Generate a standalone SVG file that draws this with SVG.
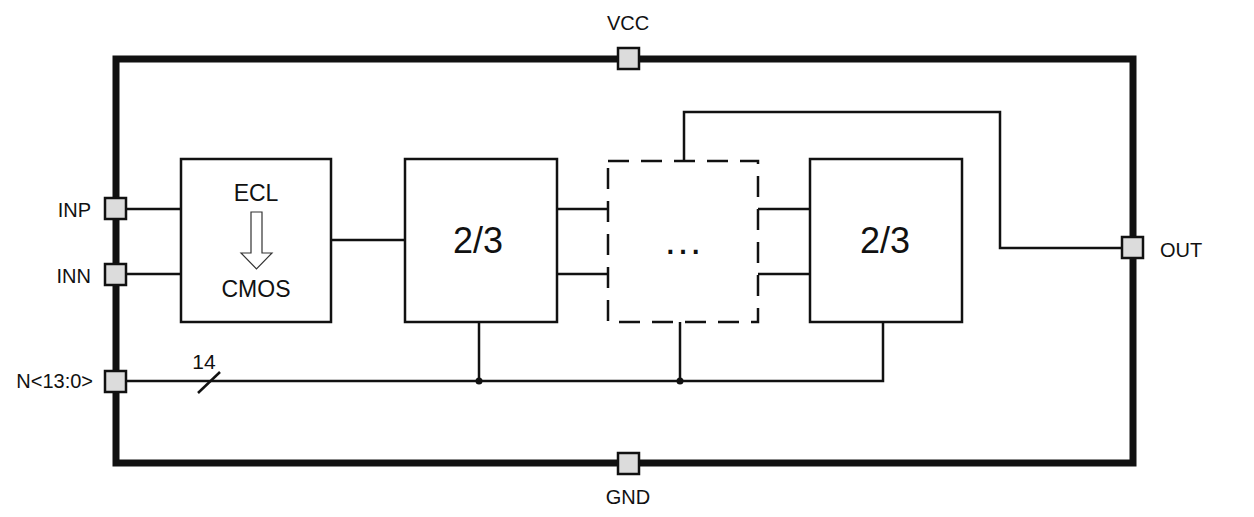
<svg xmlns="http://www.w3.org/2000/svg" width="1254" height="517" viewBox="0 0 1254 517">
<style>
text{font-family:"Liberation Sans",Arial,sans-serif;fill:#111}
.lbl{font-size:20px}
.blk{fill:#fff;stroke:#111;stroke-width:2.5}
.w{fill:none;stroke:#111;stroke-width:2.5}
.pin{fill:#dcdcdc;stroke:#111;stroke-width:2.5}
.big{font-size:36px}
</style>
<rect width="1254" height="517" fill="#fff"/>
<g id="frame"><rect x="116" y="59" width="1017" height="404" fill="none" stroke="#111" stroke-width="7"/></g>
<g id="connectors">
<line class="w" x1="116" y1="209" x2="181" y2="209"/>
<line class="w" x1="116" y1="274" x2="181" y2="274"/>
<line class="w" x1="331" y1="240" x2="405" y2="240"/>
<line class="w" x1="557" y1="209" x2="608" y2="209"/>
<line class="w" x1="557" y1="274" x2="608" y2="274"/>
<line class="w" x1="758" y1="209" x2="810" y2="209"/>
<line class="w" x1="758" y1="274" x2="810" y2="274"/>
<polyline class="w" points="684,161 684,112 1000,112 1000,248 1133,248"/>
<polyline class="w" points="116,381 883,381 883,322"/>
<line class="w" x1="479" y1="322" x2="479" y2="381"/>
<line class="w" x1="680" y1="322" x2="680" y2="381"/>
<circle cx="479" cy="381" r="3.5" fill="#111"/>
<circle cx="680" cy="381" r="3.5" fill="#111"/>
<line class="w" x1="198" y1="393" x2="220" y2="372"/>
<text x="204" y="369" font-size="21" text-anchor="middle">14</text>
</g>
<g id="ecl">
<rect class="blk" x="181" y="159" width="150" height="163"/>
<text x="256" y="201" font-size="23" text-anchor="middle">ECL</text>
<polygon points="251,212 262,212 262,253 272,253 256.5,269 241,253 251,253" fill="#fff" stroke="#333" stroke-width="1.2"/>
<text x="256" y="297" font-size="23" text-anchor="middle">CMOS</text>
</g>
<g id="div1">
<rect class="blk" x="405" y="159" width="152" height="163"/>
<text class="big" x="478" y="253" text-anchor="middle">2/3</text>
</g>
<g id="divdots">
<rect x="608" y="161" width="150" height="161" fill="none" stroke="#111" stroke-width="2.5" stroke-dasharray="21,12"/>
<text x="683" y="254" font-size="40" text-anchor="middle">…</text>
</g>
<g id="div2">
<rect class="blk" x="810" y="159" width="152" height="163"/>
<text class="big" x="885" y="253" text-anchor="middle">2/3</text>
</g>
<g id="pin-vcc"><rect class="pin" x="618" y="48" width="21" height="21"/><text class="lbl" x="628" y="30" text-anchor="middle">VCC</text></g>
<g id="pin-gnd"><rect class="pin" x="618" y="453" width="21" height="21"/><text class="lbl" x="628" y="504" text-anchor="middle">GND</text></g>
<g id="pin-inp"><rect class="pin" x="105" y="198" width="21" height="21"/><text class="lbl" x="91" y="217" text-anchor="end">INP</text></g>
<g id="pin-inn"><rect class="pin" x="105" y="264" width="21" height="21"/><text class="lbl" x="91" y="283" text-anchor="end">INN</text></g>
<g id="pin-n"><rect class="pin" x="105" y="371" width="21" height="21"/><text class="lbl" x="93" y="388" text-anchor="end">N&lt;13:0&gt;</text></g>
<g id="pin-out"><rect class="pin" x="1122" y="237" width="21" height="21"/><text class="lbl" x="1160" y="257">OUT</text></g>
</svg>
